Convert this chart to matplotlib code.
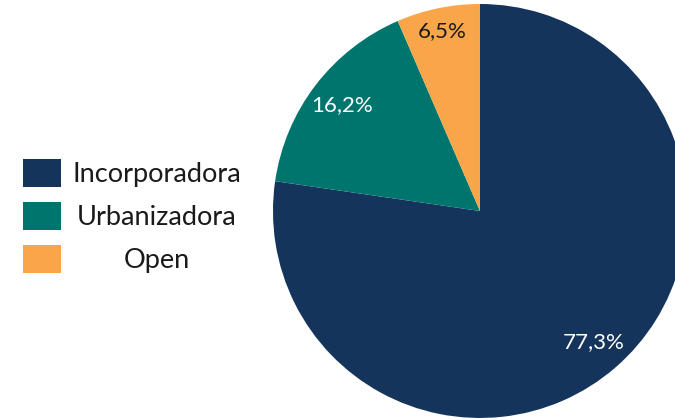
import matplotlib.pyplot as plt
import numpy as np
from matplotlib.patches import Rectangle

labels = ['Incorporadora', 'Urbanizadora', 'Open']
shares = [77.3, 16.2, 6.5]
colors = ['#14345c', '#00756e', '#f9a54a']
pct_colors = ['white', 'white', '#1a1a1a']
pct_texts = ['77,3%', '16,2%', '6,5%']

plt.rcParams['font.family'] = ['Lato', 'DejaVu Sans']

fig = plt.figure(figsize=(6.75, 4.2), dpi=100)
ax = fig.add_axes([0.4044, 0.0048, 0.6133, 0.9857])

wedges, _ = ax.pie(shares, colors=colors, startangle=90, counterclock=False,
                   radius=1.0, wedgeprops=dict(linewidth=0))
ax.set_xlim(-1, 1)
ax.set_ylim(-1, 1)
ax.set_aspect('equal')
ax.axis('off')

# percent labels, small slice sits a bit further out
label_r = [0.84, 0.84, 0.89]
for w, txt, c, r in zip(wedges, pct_texts, pct_colors, label_r):
    ang = np.deg2rad((w.theta1 + w.theta2) / 2)
    ax.text(r * np.cos(ang), r * np.sin(ang), txt, ha='center', va='center',
            color=c, fontsize=16)

# legend drawn by hand so the labels are centred like the original
box_x, box_w, box_h = 23 / 675, 38 / 675, 28 / 420
text_x = 157 / 675
for i, (lab, col) in enumerate(zip(labels, colors)):
    yc = 1 - (173 + 43 * i) / 420
    fig.patches.append(Rectangle((box_x, yc - box_h / 2), box_w, box_h,
                                 transform=fig.transFigure, facecolor=col,
                                 edgecolor='none'))
    fig.text(text_x, yc - 0.004, lab, ha='center', va='center', fontsize=19.5,
             color='#1a1a1a')

fig.savefig('out.png', dpi=100)
